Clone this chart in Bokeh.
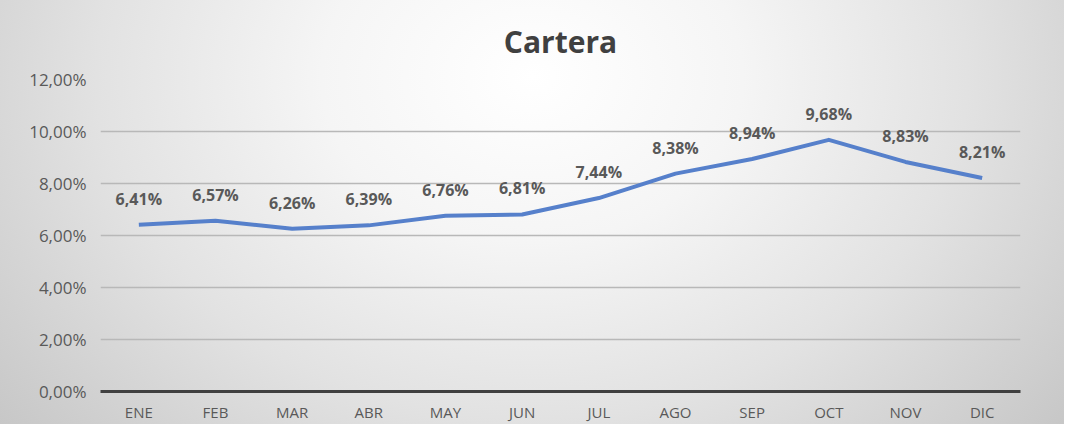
from bokeh.plotting import figure
from bokeh.models import ColumnDataSource, FactorRange, Range1d, FixedTicker, CustomJSTickFormatter
from bokeh.core.properties import value
from bokeh.embed import file_html
from bokeh.resources import INLINE

months = ["ENE", "FEB", "MAR", "ABR", "MAY", "JUN", "JUL", "AGO", "SEP", "OCT", "NOV", "DIC"]
cartera = [6.41, 6.57, 6.26, 6.39, 6.76, 6.81, 7.44, 8.38, 8.94, 9.68, 8.83, 8.21]
y_ticks = [0, 2, 4, 6, 8, 10, 12]
title_text = "Cartera"

labels = [f"{v:.2f}".replace(".", ",") + "%" for v in cartera]
src = ColumnDataSource(dict(x=months, y=cartera, lab=labels))

FONT = "Open Sans"

p = figure(width=1064, height=424, x_range=FactorRange(*months), y_range=Range1d(0, 12),
           output_backend="svg", toolbar_location=None,
           min_border_left=100, min_border_right=44, min_border_top=79, min_border_bottom=32)

p.title.text = title_text
p.title.align = "center"
p.title.text_font = FONT
p.title.text_font_size = "30px"
p.title.text_font_style = "bold"
p.title.text_color = "#404040"
p.title.standoff = 35

p.styles = {"background-image": "radial-gradient(ellipse 66% 130% at 50% 18%, #ffffff 0%, #f5f5f5 30%, #e2e2e2 62%, #c6c6c6 100%)"}
p.border_fill_alpha = 0
p.background_fill_alpha = 0
p.outline_line_color = None

p.line("x", "y", source=src, line_color="#5680CB", line_width=4, line_join="round")
p.text("x", "y", text="lab", source=src, text_align="center", text_baseline="bottom",
       y_offset=-15, text_font=value(FONT), text_font_size="16px", text_font_style="bold",
       text_color="#595959")

p.yaxis.ticker = FixedTicker(ticks=y_ticks)
p.yaxis.formatter = CustomJSTickFormatter(code="return tick.toFixed(2).replace('.', ',') + '%';")
p.yaxis.axis_line_color = None
p.yaxis.major_label_standoff = 14
p.yaxis.major_label_text_font_size = "17px"

p.xaxis.axis_line_color = "#404040"
p.xaxis.axis_line_width = 3
p.xaxis.major_label_standoff = 10
p.xaxis.major_label_text_font_size = "15px"

for ax in (p.xaxis, p.yaxis):
    ax.major_tick_line_color = None
    ax.minor_tick_line_color = None
    ax.major_tick_out = 0
    ax.major_tick_in = 0
    ax.minor_tick_out = 0
    ax.minor_tick_in = 0
    ax.major_label_text_font = FONT
    ax.major_label_text_color = "#595959"

p.xgrid.grid_line_color = None
p.ygrid.grid_line_color = "#b8b8b8"
p.ygrid.grid_line_width = 1.5

open("out.html", "w").write(file_html(p, INLINE))
